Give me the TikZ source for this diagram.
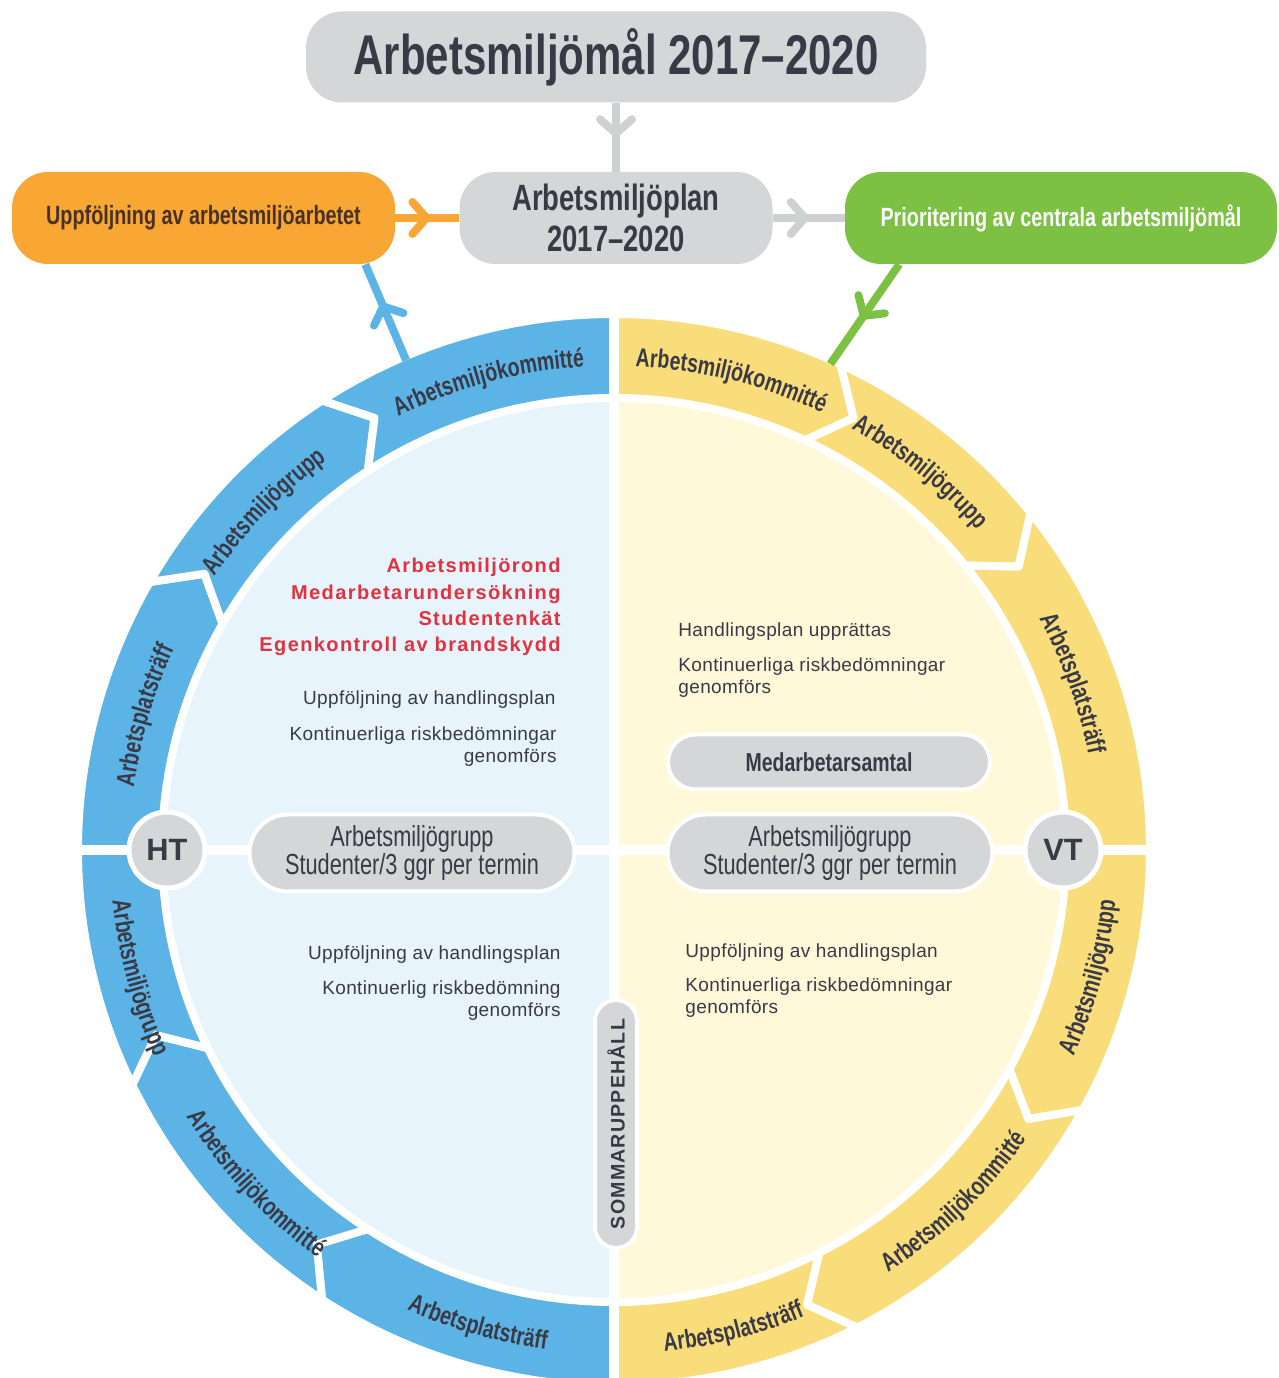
\documentclass[tikz,border=0pt]{standalone}
\usepackage{fontspec}
\setmainfont{Liberation Sans}
\newfontfamily\condfont[FakeStretch=0.75]{Liberation Sans}
\newfontfamily\ringfont[FakeStretch=0.75,LetterSpace=4]{Liberation Sans}
\newfontfamily\bodyfont[LetterSpace=2]{Liberation Sans}
\newfontfamily\alertfont[LetterSpace=7]{Liberation Sans}
\newfontfamily\capsfont[LetterSpace=6]{Liberation Sans}
\usetikzlibrary{arrows.meta,decorations.markings,decorations.text,shapes.misc,positioning}

\definecolor{ringblue}{HTML}{5BB4E5}
\definecolor{paleblue}{HTML}{E7F4FC}
\definecolor{ringyellow}{HTML}{FADD7B}
\definecolor{paleyellow}{HTML}{FFF8D9}
\definecolor{boxgray}{HTML}{D5D6D8}
\definecolor{arrowgray}{HTML}{CFD0D2}
\definecolor{goalorange}{HTML}{F8A634}
\definecolor{goalgreen}{HTML}{7CC144}
\definecolor{inktext}{HTML}{3A3A46}
\definecolor{browntext}{HTML}{4A3222}
\definecolor{alertred}{HTML}{E3323F}

% ring radii (outline is white and eats 4px on each side)
\def\Rout{536}
\def\Rin{452}
\def\Rmid{494}
% one chevron segment of the ring, running from angle #2 down to #3
% #4 = notch at the start, #5 = point at the end (0 gives a flat edge)
\def\ringseg[#1](#2:#3)(#4,#5){\filldraw[#1] (#2:\Rout) arc[start angle=#2, end angle=#3, radius=\Rout] -- ({#3-#5}:\Rmid) -- (#3:\Rin) arc[start angle=#3, end angle=#2, radius=\Rin] -- ({#2-#4}:\Rmid) -- cycle;}
% label bent along the ring
\def\arclabel(#1:#2:#3)#4{\path[decorate, decoration={text along path, text align=center, text={|\ringfont\bfseries\fontsize{13}{13}\selectfont\color{inktext}|#4}}] (#1:#3) arc[start angle=#1, end angle=#2, radius=#3];}

\begin{document}
\begin{tikzpicture}[x=0.5pt, y=0.5pt,
  topbox/.style={rounded corners=18pt, minimum height=46pt, inner sep=0pt, align=center},
  pill/.style={rounded rectangle, fill=boxgray, draw=white, line width=2pt, inner sep=0pt, text=inktext, align=center},
  term/.style={circle, fill=boxgray, draw=white, line width=2.5pt, minimum size=38pt, inner sep=0pt, text=inktext, font=\bfseries\fontsize{15.4}{16}\selectfont},
  note/.style={inner sep=0pt, text=inktext, font=\bodyfont\fontsize{9.5}{11}\selectfont},
  segblue/.style={fill=ringblue, draw=white, line width=4pt, line join=round},
  segyellow/.style={fill=ringyellow, draw=white, line width=4pt, line join=round},
  link/.style={line width=4pt},
  midtip/.style={postaction={decorate}, decoration={markings, mark=at position #1 with {\arrow{Straight Barb[length=7pt,width=16pt,round]}}}}
]
\useasboundingbox (0,0) rectangle (1279,1378);

%%%%% year wheel %%%%%
\begin{scope}[shift={(614,528)}]
  \fill[paleblue] (90:456) arc[start angle=90, end angle=270, radius=456] -- cycle;
  \fill[paleyellow] (-90:456) arc[start angle=-90, end angle=90, radius=456] -- cycle;

  % autumn half, running upwards
  \ringseg[segblue](270:237)(0,4)
  \ringseg[segblue](237:206)(4,4)
  \ringseg[segblue](206:180)(4,0)
  \ringseg[segblue](180:150)(0,4)
  \ringseg[segblue](150:123)(4,4)
  \ringseg[segblue](123:90)(4,0)
  % spring half, running downwards
  \ringseg[segyellow](90:65)(0,4)
  \ringseg[segyellow](65:39)(4,4)
  \ringseg[segyellow](39:0)(4,0)
  \ringseg[segyellow](0:-29)(0,4)
  \ringseg[segyellow](-29:-63)(4,4)
  \ringseg[segyellow](-63:-90)(4,0)

  \draw[white, line width=5pt] (0,-545) -- (0,545);
  \draw[white, line width=5pt] (-545,0) -- (545,0);

  \arclabel(145:65:484){Arbetsmiljökommitté}
  \arclabel(176:96:484){Arbetsmiljögrupp}
  \arclabel(204:124:484){Arbetsplatsträff}
  \arclabel(116:36:484){Arbetsmiljökommitté}
  \arclabel(91:11:484){Arbetsmiljögrupp}
  \arclabel(60:-20:484){Arbetsplatsträff}
  \arclabel(155:235:504){Arbetsmiljögrupp}
  \arclabel(183:263:504){Arbetsmiljökommitté}
  \arclabel(214:294:504){Arbetsplatsträff}
  \arclabel(-55:25:504){Arbetsmiljögrupp}
  \arclabel(-86:-6:504){Arbetsmiljökommitté}
  \arclabel(-116:-36:504){Arbetsplatsträff}

  \coordinate (blueout) at (113:532);
  \coordinate (greenin) at (66:532);
\end{scope}

\node[term] (ht) at (167,528) {HT};
\node[term] (vt) at (1063,528) {VT};

\node[pill, minimum width=162.5pt, minimum height=38.5pt, font=\condfont\fontsize{14.5}{14}\selectfont] (htgroup) at (412,525) {Arbetsmiljögrupp\\Studenter/3 ggr per termin};
\node[pill, minimum width=162.5pt, minimum height=38.5pt, font=\condfont\fontsize{14.5}{14}\selectfont] (vtgroup) at (830,525) {Arbetsmiljögrupp\\Studenter/3 ggr per termin};
\node[pill, minimum width=161pt, minimum height=27.5pt, font=\condfont\bfseries\fontsize{13}{13}\selectfont] (vttalk) at (829,616) {Medarbetarsamtal};
\node[pill, rotate=90, minimum width=124pt, minimum height=21pt, font=\capsfont\bfseries\fontsize{9.8}{10}\selectfont] (summer) at (616,254) {SOMMARUPPEHÅLL};

% autumn notes
\node[inner sep=0pt, anchor=east, align=right, text=alertred, font=\alertfont\bfseries\fontsize{10}{13.1}\selectfont] (htrounds) at (561,771) {Arbetsmiljörond\\Medarbetarundersökning\\Studentenkät\\Egenkontroll av brandskydd};
\node[note, anchor=east, align=right] (htfollow) at (556,678) {Uppföljning av handlingsplan};
\node[note, anchor=east, align=right] (htrisk) at (557,631) {Kontinuerliga riskbedömningar\\genomförs};
\node[note, anchor=east, align=right] (htfollowb) at (561,423) {Uppföljning av handlingsplan};
\node[note, anchor=east, align=right] (htriskb) at (561,377) {Kontinuerlig riskbedömning\\genomförs};
% spring notes
\node[note, anchor=west, align=left] (vtplan) at (678,746) {Handlingsplan upprättas};
\node[note, anchor=west, align=left] (vtrisk) at (678,700) {Kontinuerliga riskbedömningar\\genomförs};
\node[note, anchor=west, align=left] (vtfollow) at (685,425) {Uppföljning av handlingsplan};
\node[note, anchor=west, align=left] (vtriskb) at (685,380) {Kontinuerliga riskbedömningar\\genomförs};

%%%%% goals and plan %%%%%
\node[topbox, fill=boxgray, text=inktext, minimum width=310pt, minimum height=45.5pt, font=\condfont\bfseries\fontsize{28}{30}\selectfont] (goals) at (616,1321) {Arbetsmiljömål 2017–2020};
\node[topbox, fill=boxgray, text=inktext, minimum width=156.5pt, font=\condfont\bfseries\fontsize{18.3}{20.5}\selectfont] (plan) at (616,1160) {Arbetsmiljöplan\\2017–2020};
\node[topbox, fill=goalorange, text=browntext, minimum width=191.5pt, font=\condfont\bfseries\fontsize{13.2}{14}\selectfont] (followup) at (203.5,1160) {Uppföljning av arbetsmiljöarbetet};
\node[topbox, fill=goalgreen, text=white, minimum width=216pt, font=\condfont\bfseries\fontsize{13.2}{14}\selectfont] (priority) at (1061,1160) {Prioritering av centrala arbetsmiljömål};

\draw[link, arrowgray, midtip=0.5] (goals) -- (plan);
\draw[link, goalorange, midtip=0.55] (followup) -- (plan);
\draw[link, arrowgray, midtip=0.5] (plan) -- (priority);
\draw[link, ringblue, midtip=0.6] (blueout) -- (followup.-16);
\draw[link, goalgreen, midtip=0.55] (priority.196) -- (greenin);
\end{tikzpicture}
\end{document}
